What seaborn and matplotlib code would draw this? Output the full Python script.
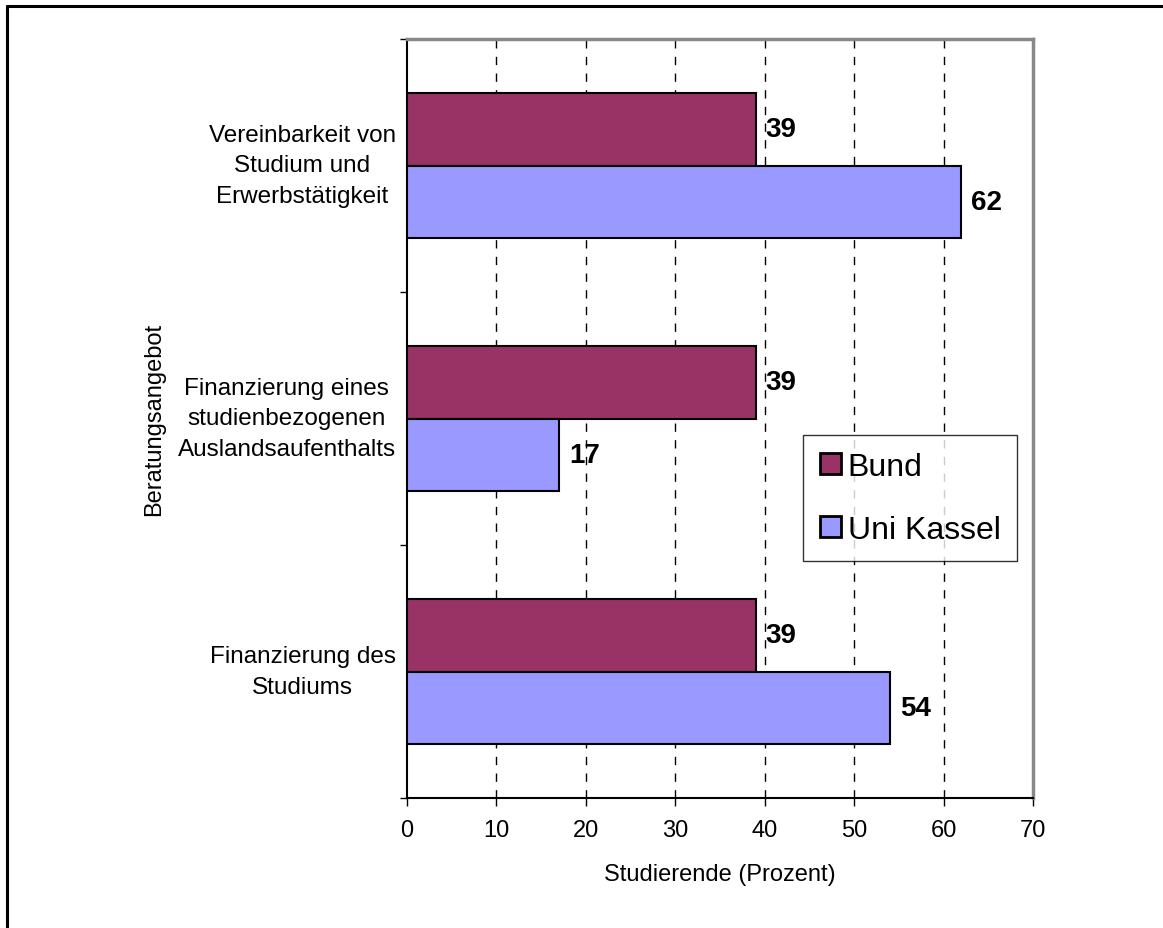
import matplotlib
matplotlib.use("Agg")
import matplotlib.pyplot as plt
import seaborn as sns
import pandas as pd
from matplotlib.lines import Line2D
from matplotlib.ticker import FixedLocator, NullFormatter

# Survey data: share of students (%) interested in each advisory offer
categories = [
    "Vereinbarkeit von\nStudium und\nErwerbstätigkeit",
    "Finanzierung eines\nstudienbezogenen\nAuslandsaufenthalts",
    "Finanzierung des\nStudiums",
]
series_names = ["Bund", "Uni Kassel"]
bund_values = [39, 39, 39]
kassel_values = [62, 17, 54]
x_ticks = [0, 10, 20, 30, 40, 50, 60, 70]

colors = {"Bund": "#993366", "Uni Kassel": "#9999FF"}

df = pd.DataFrame({
    "Beratungsangebot": categories * 2,
    "Gruppe": [series_names[0]] * 3 + [series_names[1]] * 3,
    "Prozent": bund_values + kassel_values,
})

sns.set_theme(style="white")
plt.rcParams["font.family"] = ["Liberation Sans", "DejaVu Sans"]
plt.rcParams.update({
    "text.color": "black", "axes.labelcolor": "black",
    "xtick.color": "black", "ytick.color": "black",
})

fig = plt.figure(figsize=(11.63, 9.29), dpi=100)
ax = fig.add_axes([407 / 1163, 1 - 799 / 929, 626 / 1163, 759 / 929])

sns.barplot(
    data=df, y="Beratungsangebot", x="Prozent", hue="Gruppe",
    order=categories, hue_order=series_names, palette=colors,
    orient="h", width=0.57, gap=0, edgecolor="black", linewidth=1.5,
    saturation=1, legend=False, ax=ax, zorder=3,
)

ax.set_xlim(0, 70)
ax.set_ylim(2.5, -0.5)
ax.set_xticks(x_ticks)
ax.set_xticklabels([str(v) for v in x_ticks], fontsize=17)

# vertical dashed grid
ax.grid(False)
for v in x_ticks[1:-1]:
    ax.axvline(v, color="black", linestyle=(0, (6, 6)), linewidth=1.0, zorder=1)

# category separators as major ticks, labels on minor ticks
ax.yaxis.set_major_locator(FixedLocator([-0.5, 0.5, 1.5, 2.5]))
ax.yaxis.set_major_formatter(NullFormatter())
ax.yaxis.set_minor_locator(FixedLocator([0, 1, 2]))
ax.set_yticklabels(categories, minor=True, fontsize=17.5, ha="right",
                   va="center", multialignment="center", linespacing=1.52)
ax.tick_params(axis="y", which="major", direction="out", length=5, width=1,
               left=True)
ax.tick_params(axis="y", which="minor", length=0, pad=8, left=True)
ax.tick_params(axis="x", which="major", direction="out", length=6, width=1,
               bottom=True, pad=9)

for side in ("left", "bottom"):
    ax.spines[side].set_color("black")
    ax.spines[side].set_linewidth(1.5)
for side in ("top", "right"):
    ax.spines[side].set_color("#888888")
    ax.spines[side].set_linewidth(2.5)

ax.set_xlabel("Studierende (Prozent)", fontsize=17, labelpad=16)
ax.set_ylabel("Beratungsangebot", fontsize=17)
ax.yaxis.set_label_coords(-0.386, 0.5)

for cont in ax.containers:
    ax.bar_label(cont, labels=[f"{int(v)}" for v in cont.datavalues],
                 padding=7, fontsize=20, fontweight="bold", color="black")

handles = [
    plt.Rectangle((0, 0), 1, 1, facecolor=colors[n], edgecolor="black", linewidth=2)
    for n in series_names
]
leg = ax.legend(
    handles, series_names, loc="upper left",
    bbox_to_anchor=(803 / 1163, 1 - 436 / 929), bbox_transform=fig.transFigure,
    borderaxespad=0, fontsize=23, frameon=True, fancybox=False,
    handlelength=0.66, handleheight=0.66, handletextpad=0.22,
    labelspacing=1.03, borderpad=0.52,
)
leg.get_frame().set_edgecolor("black")
leg.get_frame().set_linewidth(1.0)

# outer chart border (left and top edges)
fig.add_artist(Line2D([7 / 1163, 7 / 1163], [0, 1 - 7 / 929],
                      transform=fig.transFigure, color="black", linewidth=2.2))
fig.add_artist(Line2D([7 / 1163, 1], [1 - 7 / 929, 1 - 7 / 929],
                      transform=fig.transFigure, color="black", linewidth=2.2))

fig.savefig("out.png", dpi=100, facecolor="white")
